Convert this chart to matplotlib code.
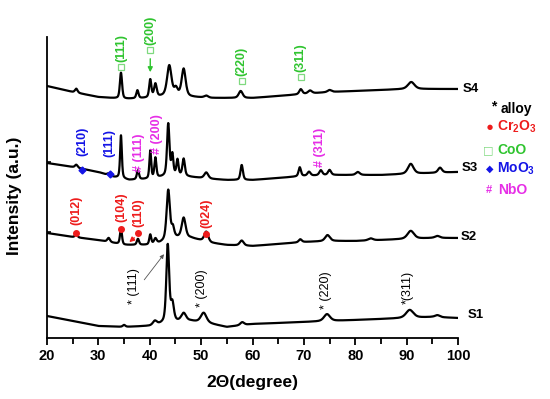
import numpy as np
import matplotlib
matplotlib.use('Agg')
import matplotlib.pyplot as plt

plt.rcParams['font.family'] = ['Liberation Sans', 'DejaVu Sans']
plt.rcParams['font.weight'] = 'bold'
plt.rcParams['mathtext.fontset'] = 'custom'
plt.rcParams['mathtext.rm'] = 'Liberation Sans:bold'
plt.rcParams['mathtext.bf'] = 'Liberation Sans:bold'
plt.rcParams['mathtext.it'] = 'Liberation Sans:bold'

# ---------------- data (intensity in arbitrary stacked units) ----------------
two_theta = np.arange(20, 100.001, 0.04)

s1_base_x = [20, 25, 30, 35, 40, 45, 48, 52, 55, 60, 65, 70, 75, 80, 85, 90, 95, 100]
s1_base_y = [22, 17, 12, 11, 12, 16, 17, 14, 11, 14, 15, 16, 17, 18, 19, 20, 21, 20]
s1_pos = [35.0, 41.0, 43.5, 44.4, 46.6, 50.5, 58.0, 74.5, 90.6, 96.0]
s1_h = [2, 4, 78, 18, 8, 10, 3, 7, 8, 2]
s1_w = [0.6, 0.9, 0.65, 0.7, 1.1, 1.3, 0.9, 1.4, 1.7, 1.1]

s2_base_x = [20, 25, 30, 35, 40, 42, 45, 48, 52, 55, 60, 65, 70, 75, 80, 85, 90, 95, 100]
s2_base_y = [105, 101, 98, 93, 93, 95, 100, 100, 95, 93, 92, 94, 96, 97, 97, 98, 99, 100, 100]
s2_pos = [25.7, 32.0, 34.4, 37.7, 40.1, 41.1, 43.6, 44.5, 46.6, 51.0, 57.9, 69.3, 74.6, 83.0, 90.8, 96.0]
s2_h = [4, 4, 16, 6, 10, 5, 50, 10, 20, 10, 5, 3, 6, 2, 8, 2]
s2_w = [0.5, 0.6, 0.45, 0.5, 0.45, 0.6, 0.75, 0.6, 0.9, 0.9, 0.9, 0.7, 1.1, 1.1, 1.5, 1.1]

s3_base_x = [20, 25, 30, 33, 36, 40, 45, 48, 52, 55, 60, 65, 70, 75, 80, 85, 90, 95, 100]
s3_base_y = [175, 171, 166, 161, 158, 159, 163, 161, 159, 158, 158, 160, 162, 163, 163, 163, 164, 165, 166]
s3_pos = [25.7, 32.0, 34.4, 37.7, 40.1, 41.1, 43.6, 44.4, 45.4, 46.6, 51.0, 57.9, 69.2, 71.0, 73.3, 75.0, 80.5, 90.8, 96.5]
s3_h = [3, 2, 43, 9, 28, 20, 52, 20, 15, 17, 6, 15, 9, 4, 5, 5, 3, 10, 5]
s3_w = [0.6, 0.6, 0.4, 0.5, 0.4, 0.45, 0.55, 0.45, 0.45, 0.55, 0.9, 0.55, 0.55, 0.7, 0.7, 0.7, 0.9, 1.3, 0.9]

s4_base_x = [20, 25, 30, 35, 40, 45, 48, 52, 55, 60, 65, 70, 75, 80, 85, 90, 95, 100]
s4_base_y = [252, 246, 241, 239, 240, 243, 241, 240, 240, 240, 242, 244, 246, 247, 248, 249, 249, 249]
s4_pos = [25.7, 34.4, 37.6, 40.1, 41.1, 43.8, 45.1, 46.6, 51.0, 57.7, 69.4, 71.2, 75.0, 90.9]
s4_h = [4, 26, 8, 18, 13, 30, 6, 27, 2, 7, 5, 3, 2, 7]
s4_w = [0.6, 0.5, 0.5, 0.5, 0.6, 1.0, 0.7, 0.9, 0.9, 0.9, 0.7, 0.9, 0.9, 1.5]

sample_names = ['S1', 'S2', 'S3', 'S4']
xticks = [20, 30, 40, 50, 60, 70, 80, 90, 100]


def pattern(bx, by, pos, h, w, eta=0.5):
    y = np.interp(two_theta, bx, by)
    for p, a, fw in zip(pos, h, w):
        d = (two_theta - p) / (fw / 2.0)
        y = y + a * (eta / (1 + d ** 2) + (1 - eta) * np.exp(-np.log(2) * d ** 2))
    return y


curves = [
    pattern(s1_base_x, s1_base_y, s1_pos, s1_h, s1_w),
    pattern(s2_base_x, s2_base_y, s2_pos, s2_h, s2_w),
    pattern(s3_base_x, s3_base_y, s3_pos, s3_h, s3_w),
    pattern(s4_base_x, s4_base_y, s4_pos, s4_h, s4_w),
]

# ---------------- figure ----------------
W, H = 550, 399
fig = plt.figure(figsize=(W / 100, H / 100), dpi=100)
ax = fig.add_axes([47 / W, 61 / H, 411 / W, 301 / H])

for c in curves:
    ax.plot(two_theta, c, color='black', lw=1.6)

ax.set_xlim(20, 100)
ax.set_ylim(0, 301)
ax.spines['top'].set_visible(False)
ax.spines['right'].set_visible(False)
ax.spines['left'].set_linewidth(1.3)
ax.spines['bottom'].set_linewidth(1.3)
ax.set_xticks(xticks)
ax.set_xticklabels([str(t) for t in xticks])
ax.set_xticks(np.arange(25, 100, 10), minor=True)
ax.tick_params(axis='x', which='major', direction='out', length=5, width=1.3, labelsize=10.5, pad=3)
ax.tick_params(axis='x', which='minor', direction='out', length=4, width=1.3)
ax.set_yticks([106, 176])
ax.set_yticklabels([])
ax.tick_params(axis='y', direction='in', length=3, width=1.2)
for lab in ax.get_xticklabels():
    lab.set_fontweight('bold')

fig.text(252 / W, 1 - 383 / H, '2\u0398(degree)', ha='center', va='center', fontsize=12.5, fontweight='bold')
fig.text(15 / W, 1 - 196 / H, 'Intensity (a.u.)', ha='center', va='center', rotation=90, fontsize=12.5, fontweight='bold')

# sample labels
for name, xs, ys in zip(sample_names, [100.3, 99.0, 99.2, 99.4], [23, 101, 170, 249]):
    ax.text(xs + 1.5, ys, name, fontsize=9.5, fontweight='bold', ha='left', va='center', clip_on=False)

GREEN = '#2fc42f'
LGREEN = '#7fd97f'
RED = '#ee1c1c'
BLUE = '#1414e6'
MAG = '#e62ee6'
AFS = 9

# CoO on S4
for x, my, ty, lab in [(34.4, 271, 276, '(111)'), (40.1, 288, 293, '(200)'),
                       (57.9, 257, 262, '(220)'), (69.4, 261, 266, '(311)')]:
    ax.plot(x, my, marker='s', ms=5, mfc='none', mec=LGREEN, mew=0.9, clip_on=False)
    ax.text(x, ty, lab, rotation=90, ha='center', va='bottom', color=GREEN, fontsize=AFS, fontweight='bold', clip_on=False)
ax.annotate('', xy=(40.1, 263), xytext=(40.1, 282),
            arrowprops=dict(arrowstyle='-|>', color=GREEN, lw=1.0, mutation_scale=7))

# MoO3 on S3
for x, my, ty, lab in [(26.85, 168, 182, '(210)'), (32.2, 164, 181, '(111)')]:
    ax.plot(x, my, marker='D', ms=3.5, color=BLUE, mec=BLUE, clip_on=False)
    ax.text(x, ty, lab, rotation=90, ha='center', va='bottom', color=BLUE, fontsize=AFS, fontweight='bold')

# NbO on S3
for x, ty, lab in [(38.0, 166, '# (111)'), (41.5, 184, '# (200)'), (73.2, 171, '# (311)')]:
    ax.text(x, ty, lab, rotation=90, ha='center', va='bottom', color=MAG, fontsize=AFS, fontweight='bold')

# Cr2O3 on S2
for x, my, ty, lab in [(25.7, 105, 113, '(012)'), (34.5, 109, 116, '(104)'),
                       (37.8, 105, 111, '(110)'), (51.0, 104, 110, '(024)')]:
    ax.plot(x, my, marker='o', ms=4, color=RED, clip_on=False)
    ax.text(x, ty, lab, rotation=90, ha='center', va='bottom', color=RED, fontsize=AFS, fontweight='bold')
ax.annotate('', xy=(35.6, 94), xytext=(37.4, 102),
            arrowprops=dict(arrowstyle='-|>', color=RED, lw=1.0, mutation_scale=7))

# alloy on S1
for x, ty, lab in [(37.0, 34, '* (111)'), (50.1, 31, '* (200)'), (74.4, 29, '* (220)'), (90.2, 34, '*(311)')]:
    ax.text(x, ty, lab, rotation=90, ha='center', va='bottom', color='black', fontsize=AFS, fontweight='normal')
ax.annotate('', xy=(43.1, 86), xytext=(38.6, 56),
            arrowprops=dict(arrowstyle='-|>', color='#555555', lw=0.6, mutation_scale=6))

# legend text
LFS = 10
fig.text(494 / W, 1 - 106 / H, '*', ha='center', va='center', fontsize=LFS, fontweight='bold', color='black')
fig.text(501 / W, 1 - 109 / H, 'alloy', ha='left', va='center', fontsize=LFS, fontweight='bold', color='black')
fig.text(490 / W, 1 - 127 / H, '\u25CF', ha='center', va='center', fontsize=5, color=RED, family='DejaVu Sans')
fig.text(497 / W, 1 - 127 / H, r'Cr$_2$O$_3$', ha='left', va='center', fontsize=LFS, fontweight='bold', color=RED)
fig.text(488 / W, 1 - 150 / H, '\u25A1', ha='center', va='center', fontsize=8, color=LGREEN, family='DejaVu Sans')
fig.text(497 / W, 1 - 150 / H, 'CoO', ha='left', va='center', fontsize=LFS, fontweight='bold', color=GREEN)
fig.text(490 / W, 1 - 169 / H, '\u25C6', ha='center', va='center', fontsize=7, color=BLUE, family='DejaVu Sans')
fig.text(497 / W, 1 - 169 / H, r'MoO$_3$', ha='left', va='center', fontsize=LFS, fontweight='bold', color=BLUE)
fig.text(489 / W, 1 - 190 / H, '#', ha='center', va='center', fontsize=8, color=MAG)
fig.text(498 / W, 1 - 190 / H, 'NbO', ha='left', va='center', fontsize=LFS, fontweight='bold', color=MAG)

fig.savefig('out.png', dpi=100)
